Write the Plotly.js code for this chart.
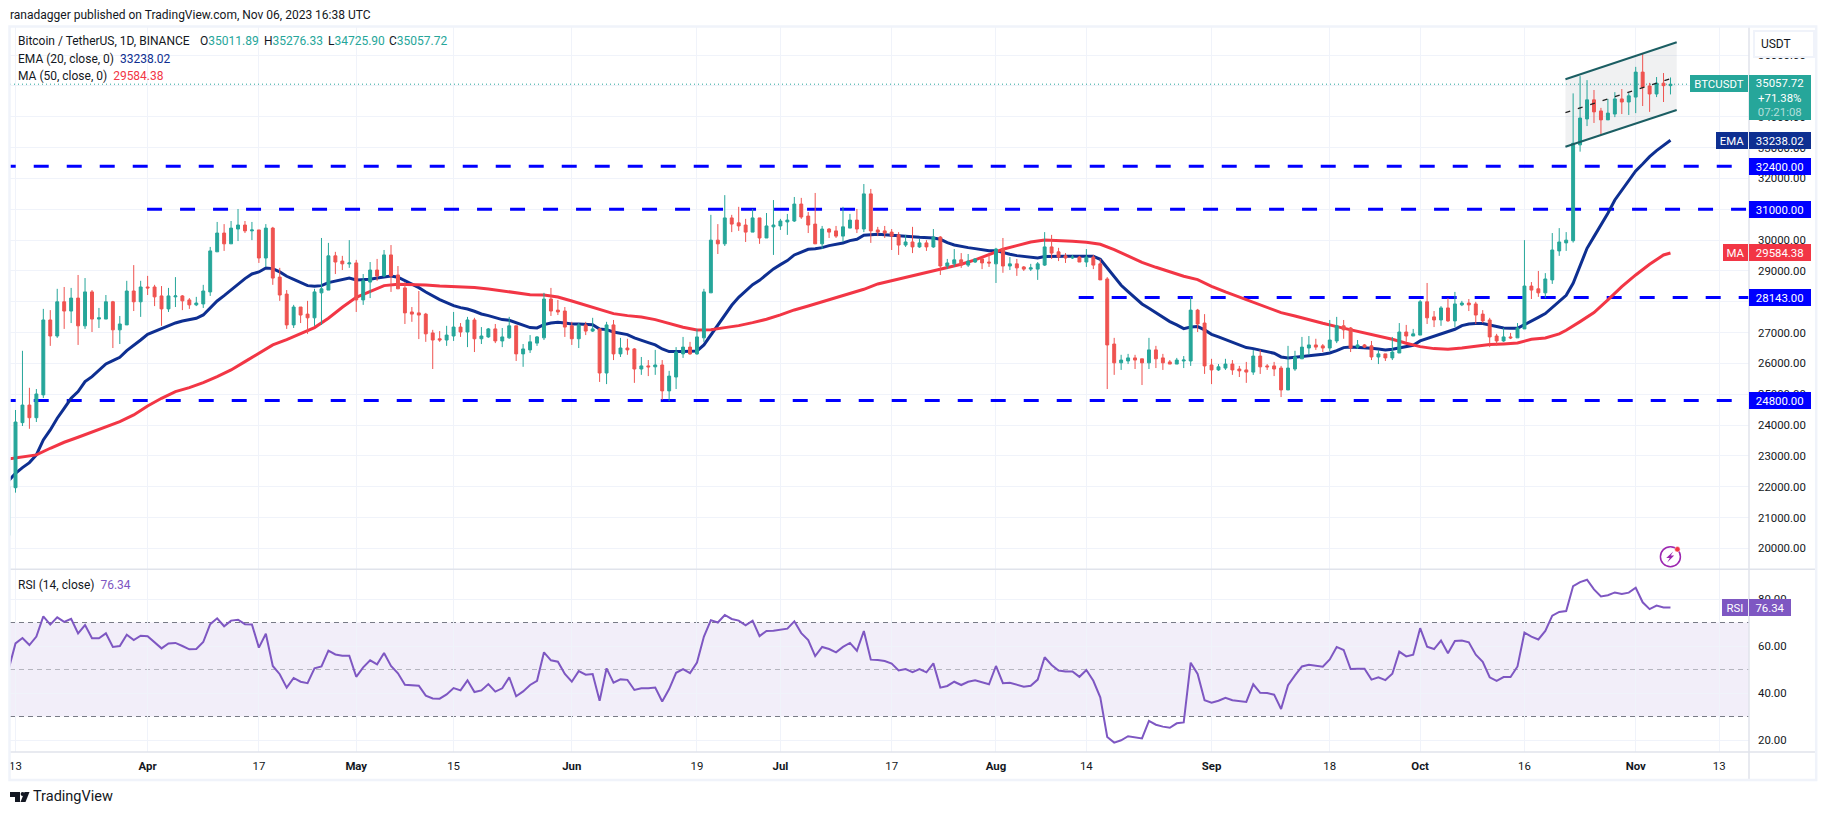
<!DOCTYPE html>
<html>
<head>
<meta charset="utf-8">
<title>BTCUSDT</title>
<script src="https://cdn.plot.ly/plotly-3.0.1.min.js"></script>
<style>html,body{margin:0;padding:0;background:#fff}#chart{width:1827px;height:815px}</style>
</head>
<body>
<div id="chart"></div>
<script>
// daily candles, first one is 12 Mar 2023
var firstDay = Date.UTC(2023, 2, 12);

var open = [20420,
21970,24080,24650,24240,24980,27410,26890,28000,27700,28120,
27220,28320,27440,27440,28000,27090,27250,28350,28000,28480,
28480,28190,27770,28160,28190,28060,27900,27930,28320,29620,
30230,29880,30360,30490,30300,30330,29420,30390,28800,28250,
27250,27830,27600,27480,28290,28380,29490,29320,29230,29260,
28060,28640,29030,28840,29520,28870,28450,27670,27640,27600,
26990,26800,26760,26890,27180,27020,27410,26800,26860,27120,
26730,26830,27220,26310,26440,26660,26830,28090,27730,27700,
27220,26800,27250,27050,27120,25690,27250,26310,26500,26470,
25820,25920,25890,25950,25110,25560,26310,26530,26310,26830,
28290,30000,29880,30720,30560,30490,30260,30720,30070,30430,
30460,30590,30620,31170,30780,30520,29880,30360,30300,30130,
30390,30650,30360,31500,30330,30300,30260,30170,29840,29940,
29780,29910,29780,30100,29160,29230,29360,29190,29290,29390,
29290,29230,29710,29160,29230,29130,29060,29060,29190,29780,
29620,29490,29420,29450,29290,29450,29230,28740,26630,26020,
26080,26180,26150,26020,26440,26180,26050,25980,26080,26080,
27730,27310,25950,25790,25850,25980,25820,25790,25720,26240,
25920,25920,25850,25140,25820,26150,26500,26600,26570,26500,
26730,27220,27150,26530,26600,26570,26210,26310,26180,26340,
27020,26890,26920,28000,27510,27410,27800,27380,27900,27960,
27930,27600,27410,26890,26730,26860,26830,27120,28510,28420,
28290,28710,29650,29910,29980,33090,33930,34550,34190,33900,
34090,34580,34480,34640,35450,35000,34740,35090,35011.89];

var high = [22010,
24490,26410,25210,25170,27770,27730,28420,28480,28450,28870,
28770,28380,27800,28220,28030,27540,28680,29190,28680,28840,
28550,28510,28450,28800,28220,28120,28160,28550,29780,30590,
30520,30620,31010,30620,30590,30330,30520,30430,29100,28380,
27900,27830,28030,28420,30070,29910,29620,29490,30000,29360,
28900,29290,29390,29680,29840,29160,28640,27830,28350,27640,
27090,27050,27220,27670,27310,27510,27480,27180,27150,27280,
27150,27510,27220,26630,26920,26890,28290,28450,28060,27830,
27350,27310,27350,27480,27150,27350,27410,26830,26800,26500,
26210,26110,26440,26110,25760,26530,26860,26700,27120,28420,
30820,30520,31460,30820,31080,30690,31010,30720,30880,31300,
30690,30850,31400,31370,30910,31530,30460,30390,30460,31080,
30850,31010,31820,31660,30430,30460,30360,30260,30170,30430,
30040,30000,30360,30130,29390,29710,29580,29550,29420,29420,
29550,29750,30070,29450,29390,29160,29230,29290,30260,30170,
29750,29580,29520,29490,29710,29520,29390,28800,26830,26280,
26310,26280,26150,26830,26570,26310,26110,26180,26240,28160,
27770,27600,26150,25980,26150,26110,25920,26050,26440,26440,
25980,26050,25920,26570,26410,26860,26890,26800,26630,27410,
27510,27410,27180,26760,26630,26730,26440,26310,26860,27310,
27250,27120,28060,28610,27700,27860,28120,28320,28030,28090,
28000,27730,27480,26960,27150,26990,27310,30000,28640,29000,
28930,30230,30390,30260,34760,35320,35190,34870,34290,34580,
34800,34900,34770,35620,36060,35100,35290,35420,35276.33];

var low = [20420,
21810,23970,23880,24100,24880,26570,26830,27120,27310,26600,
27120,27020,27150,27440,26500,26630,27250,27700,27510,28220,
27860,27220,27670,27830,27730,27770,27860,27800,28190,29620,
29650,29880,29970,30230,30000,29260,29130,28550,28030,27120,
27150,27310,26960,27220,27250,28380,28900,29030,29100,27670,
27900,28120,28680,28800,28320,28420,27280,27350,26790,26700,
25820,26700,26570,26730,26860,26530,26370,26630,26830,26660,
26530,26800,26080,25890,26340,26570,26760,27540,27570,26860,
26600,26500,26920,27020,25400,25330,26110,26210,26280,25370,
25630,25590,25630,24820,24780,25170,26180,26280,26280,26700,
28290,29550,29810,30260,30300,29940,30260,29880,30070,29520,
30330,30170,30590,30690,30230,29880,29710,30070,30070,29940,
30390,30230,30260,29910,30130,30070,29680,29520,29780,29580,
29750,29650,29750,28870,29060,29130,29100,29130,29260,29060,
29130,28610,28940,29030,28840,29000,29000,28710,29160,29390,
29320,29260,29390,29290,29130,29060,28710,25170,25630,25790,
25980,25820,25300,25820,25850,25790,25980,25980,25850,25920,
27020,25660,25330,25760,25790,25630,25560,25370,25630,25660,
25790,25590,24910,25140,25760,26150,26280,26440,26370,26400,
26660,26800,26370,26470,26500,26110,25980,26080,26110,26340,
26700,26890,26920,27280,27180,27220,27350,27180,27860,27700,
27280,27310,26530,26570,26700,26790,26830,27120,28090,28160,
28120,28580,29490,29650,29920,32870,33700,33800,33440,33900,
33990,34090,34060,34120,34350,34160,34640,34480,34725.90];

var close = [22010,
24100,24650,24240,25010,27410,26890,28000,27700,28120,27220,
28320,27440,27480,28000,27090,27280,28350,28000,28480,28450,
28160,27770,28190,28190,28030,27900,27960,28350,29650,30230,
29880,30390,30490,30300,30330,29420,30390,28770,28220,27250,
27830,27570,27480,28320,28420,29490,29290,29230,29260,28060,
28680,29030,28840,29520,28840,28420,27640,27600,27570,26960,
26760,26760,26920,27180,27020,27410,26800,26890,27120,26730,
26860,27220,26310,26470,26700,26860,28090,27700,27670,27180,
26800,27250,27050,27120,25690,27250,26310,26500,26440,25820,
25920,25890,25950,25110,25590,26370,26530,26310,26860,28320,
30000,29880,30720,30520,30460,30260,30720,30070,30460,30490,
30620,30650,31170,30750,30490,29880,30360,30260,30130,30430,
30650,30360,31500,30300,30260,30230,30130,29840,29940,29780,
29910,29780,30100,29160,29260,29360,29190,29320,29390,29260,
29260,29710,29160,29230,29100,29060,29100,29230,29780,29580,
29450,29420,29450,29290,29450,29190,28710,26600,26020,26110,
26180,26110,26020,26440,26150,26020,25980,26110,26110,27730,
27280,25920,25790,25890,25980,25790,25760,25720,26240,25890,
25890,25820,25140,25850,26210,26530,26600,26530,26500,26760,
27220,27090,26500,26600,26530,26210,26310,26180,26370,27020,
26890,26960,28000,27480,27410,27800,27380,27930,27960,27900,
27570,27380,26860,26730,26860,26830,27150,28510,28380,28290,
28740,29680,29940,30000,33140,33960,34550,34160,33900,34120,
34580,34480,34680,35450,34960,34740,35090,35010,35057.72];

var ema20 = [22190,
22438,22622,22784,23033,23519,23844,24222,24546,24870,25087,
25411,25573,25789,25984,26092,26200,26416,26578,26762,26946,
27043,27119,27216,27314,27378,27422,27465,27573,27789,28027,
28200,28384,28578,28751,28903,28968,29097,29076,28968,28827,
28730,28622,28524,28503,28524,28622,28676,28730,28773,28708,
28708,28730,28773,28816,28838,28795,28686,28589,28459,28319,
28189,28070,27973,27876,27811,27767,27692,27605,27551,27476,
27422,27400,27314,27227,27162,27151,27259,27314,27335,27314,
27281,27281,27281,27259,27119,27097,27022,26989,26935,26827,
26741,26676,26600,26470,26384,26373,26384,26395,26406,26600,
26914,27238,27551,27887,28146,28362,28557,28697,28870,29065,
29205,29335,29519,29616,29703,29724,29757,29822,29854,29908,
29984,30027,30157,30178,30189,30178,30167,30150,30135,30113,
30092,30081,30070,30027,29919,29843,29789,29757,29724,29692,
29659,29659,29594,29540,29497,29465,29443,29422,29465,29476,
29476,29476,29476,29476,29476,29476,29378,29086,28795,28535,
28330,28113,27930,27789,27649,27519,27357,27249,27130,27184,
27195,27087,26946,26860,26773,26687,26589,26514,26481,26438,
26395,26330,26211,26179,26200,26233,26254,26276,26297,26341,
26416,26514,26535,26525,26514,26492,26470,26438,26460,26503,
26546,26589,26730,26806,26870,26946,27011,27108,27227,27281,
27292,27292,27249,27195,27151,27140,27140,27259,27389,27497,
27616,27822,28005,28211,28600,29195,29735,30113,30492,30870,
31303,31605,31929,32243,32470,32708,32902,33080,33238.02];

// 50 MA read every couple of days, day number counts from 13 Mar
var maDays = [-1,1,3,5,7,9,11,13,15,17,19,21,23,25,27,29,31,33,35,37,39,41,43,45,47,49,51,53,55,57,59,61,62,
64,66,68,70,72,74,76,78,80,82,84,86,88,90,92,94,96,98,100,102,104,106,108,110,112,114,116,118,120,122,124,
126,128,130,132,134,136,138,140,142,144,146,148,150,152,154,156,158,160,162,164,166,168,170,172,174,176,178,180,182,184,
186,188,190,192,194,196,198,200,202,204,206,208,210,212,214,216,218,220,222,223,225,227,229,231,233,235,237,238];
var ma50 = [22903,22979,23033,23249,23444,23606,23768,23930,24114,24330,24622,24870,25087,25216,25379,25573,25789,26060,26341,26600,26773,26968,27162,27465,27822,28146,28330,28524,28568,28568,28546,28513,28503,
28492,28460,28416,28351,28297,28232,28222,28157,28027,27897,27746,27616,27551,27508,27422,27292,27173,27087,27097,27162,27227,27324,27432,27573,27735,27865,27995,28124,28254,28405,28578,
28686,28784,28892,29011,29097,29216,29357,29519,29703,29822,29940,30005,29994,29962,29930,29865,29692,29497,29281,29119,28968,28827,28719,28503,28319,28146,27984,27822,27649,27541,
27411,27303,27195,27097,26989,26892,26784,26654,26546,26481,26460,26503,26568,26611,26633,26665,26784,26827,26957,27076,27357,27649,28060,28492,28870,29216,29519,29584.38];

var rsi = [50,
61.1,63.4,60.4,64,72.6,69.1,72.2,70.3,71.6,65.4,
68.9,63.3,63.3,65.4,59.6,60,64.8,62.5,64.4,64.2,
61.8,59,61.1,61.3,60,58.6,58.7,61.7,69.3,71.8,
68.4,70.8,71.2,69.3,69.2,59.3,65.2,51.5,48,42.3,
46.4,44.8,44.2,50.5,51.3,58,56.4,55.9,55.9,46.9,
50.9,53.9,52.2,57,51.5,48.4,43.5,43.3,43.1,38.9,
37.7,37.6,39.4,42.1,41.1,45.4,40.4,41.1,43.8,40.6,
42,46.7,38.6,40.7,43.4,45.2,57.3,53.9,53.3,48.1,
44.8,49.3,47.8,48.1,36.7,50.5,44.4,45.8,45.6,41.3,
42,42,42.3,36.4,41.7,48.6,50.2,48.5,53,64,
71,70,73.2,71.5,70.8,68.8,70.8,64.2,66.4,66.5,
67.1,67.4,70.5,65.5,62.5,55.7,59.6,58.7,57.3,59.6,
61.3,58,66.4,54.2,54,53.6,52.5,49.6,50.2,48.9,
50.2,48.8,52.6,42.3,43,44.8,43.4,44.8,45.4,44.5,
43.7,51.5,44.2,44.4,43.5,42.7,43.1,45.7,55.2,51.9,
49.6,49.2,49.2,46.9,49.8,45.2,38.2,21.3,18.9,19.9,
21.6,21.3,20.7,28.1,26.5,25.7,25.2,27.1,27.5,52.9,
48.1,36.9,35.9,36.7,38,36.9,36.6,36.2,43.7,40.1,
40,39.3,33.2,43.3,47.5,51.3,52,51.6,51.2,54.3,
59.6,58.3,50.2,50.3,50.3,45.7,46.7,45.5,48.2,57.6,
55.6,56.3,67.6,59.7,58.7,62.3,56.9,62.1,62.3,61.6,
56.3,53.3,46.7,45.2,46.8,46.8,51.3,65.7,64,62.8,
66.4,72.9,74.5,74.9,85.5,87.2,88.2,84.1,81.1,81.6,
82.8,82.1,82.7,84.8,78.6,75.7,77.2,76.4,76.34];

var levelPrices = [32400, 31000, 28143, 24800];
var levelStarts = ['2023-03-10 21:00', '2023-03-31 22:00', '2023-08-12 21:30', '2023-03-10 21:00'];

var channelDates = ['2023-10-21 21:30', '2023-11-06 21:30'];
var channelUpper = [35217, 36417];
var channelMiddle = [34133, 35301];
var channelLower = [33030, 34221];

var tickDates = ['2023-03-13','2023-04-01','2023-04-17','2023-05-01','2023-05-15','2023-06-01','2023-06-19','2023-07-01','2023-07-17','2023-08-01','2023-08-14','2023-09-01','2023-09-18','2023-10-01','2023-10-16','2023-11-01','2023-11-13'];
var tickLabels = ['13','<b>Apr</b>','17','<b>May</b>','15','<b>Jun</b>','19','<b>Jul</b>','17','<b>Aug</b>','14','<b>Sep</b>','18','<b>Oct</b>','16','<b>Nov</b>','13'];
var priceTicks = [20000,21000,22000,23000,24000,25000,26000,27000,28000,29000,30000,31000,32000,33000,34000,35000,36000];
var rsiTicks = [20,40,60,80];

var lastClose = 35057.72, lastEma = 33238.02, lastMa = 29584.38, lastRsi = 76.34;

var green = '#26a69a', red = '#ef5350', blue = '#0000ff', navy = '#0e2f91', maRed = '#f23645', purple = '#7e57c2';
var gridColor = '#f0f3fa', borderColor = '#e0e3eb', textColor = '#131722';
var fontName = 'Roboto, sans-serif';

function dayDate(d) {
    return new Date(firstDay + (d + 1) * 86400000).toISOString().slice(0, 10);
}
var dates = open.map(function (v, i) { return dayDate(i - 1); });
var maDates = maDays.map(dayDate);

var xStart = '2023-03-12 05:00', xEnd = '2023-11-17 07:00';

// page pixels to paper fractions
function X(px) { return (px - 10) / (1749.3 - 10); }
function Y(py) { return (752 - py) / 725; }

var traces = [];
traces.push({x: [channelDates[0], channelDates[1], channelDates[1], channelDates[0], channelDates[0]],
    y: [channelUpper[0], channelUpper[1], channelLower[1], channelLower[0], channelUpper[0]],
    mode: 'lines', line: {width: 0}, fill: 'toself', fillcolor: 'rgba(120,123,134,0.11)', hoverinfo: 'skip'});
traces.push({x: [xStart, xEnd], y: [lastClose, lastClose], mode: 'lines', line: {color: green, width: 1, dash: '1px,3px'}});
levelPrices.forEach(function (p, i) {
    traces.push({x: [levelStarts[i], xEnd], y: [p, p], mode: 'lines', line: {color: blue, width: 3, dash: '15px,18px'}});
});
traces.push({x: dates, y: ema20, mode: 'lines', line: {color: navy, width: 3}});
traces.push({x: maDates, y: ma50, mode: 'lines', line: {color: maRed, width: 3}});
traces.push({type: 'candlestick', x: dates, open: open, high: high, low: low, close: close, yaxis: 'y3',
    whiskerwidth: 0,
    increasing: {line: {color: green, width: 1}, fillcolor: green},
    decreasing: {line: {color: red, width: 1}, fillcolor: red}});
[channelUpper, channelLower].forEach(function (c) {
    traces.push({x: channelDates, y: c, yaxis: 'y4', mode: 'lines', line: {color: '#1b5e63', width: 2}});
});
traces.push({x: channelDates, y: channelMiddle, yaxis: 'y4', mode: 'lines', line: {color: '#222', width: 1.3, dash: '5px,8px'}});
traces.push({x: dates, y: rsi, yaxis: 'y2', mode: 'lines', line: {color: purple, width: 2}});

function frameLine(x0, y0, x1, y1, color, w) {
    return {type: 'line', xref: 'paper', yref: 'paper', x0: X(x0), y0: Y(y0), x1: X(x1), y1: Y(y1), line: {color: color, width: w}};
}
var shapes = [
    {type: 'rect', xref: 'paper', yref: 'y2', x0: 0, x1: 1, y0: 30, y1: 70, fillcolor: 'rgba(126,87,194,0.1)', line: {width: 0}, layer: 'below'},
    {type: 'line', xref: 'paper', yref: 'y2', x0: 0, x1: 1, y0: 70, y1: 70, line: {color: '#787b86', width: 1, dash: '5px,4px'}, layer: 'below'},
    {type: 'line', xref: 'paper', yref: 'y2', x0: 0, x1: 1, y0: 50, y1: 50, line: {color: 'rgba(120,123,134,0.5)', width: 1, dash: '5px,4px'}, layer: 'below'},
    {type: 'line', xref: 'paper', yref: 'y2', x0: 0, x1: 1, y0: 30, y1: 30, line: {color: '#787b86', width: 1, dash: '5px,4px'}, layer: 'below'},
    frameLine(1749.3, 27, 1749.3, 780, borderColor, 1.5),
    frameLine(10, 569.3, 1816, 569.3, borderColor, 1.5),
    frameLine(10, 752, 1816, 752, borderColor, 1.5),
    {type: 'rect', xref: 'paper', yref: 'paper', x0: X(9.5), x1: X(1816.5), y0: Y(780), y1: Y(26.5), line: {color: gridColor, width: 2.5}},
    // lightning icon
    {type: 'circle', xref: 'paper', yref: 'paper', x0: X(1660.7), x1: X(1680.7), y0: Y(566.7), y1: Y(546.7), line: {color: '#9c27b0', width: 1.5}},
    {type: 'path', xref: 'paper', yref: 'paper', fillcolor: '#9c27b0', line: {width: 0},
        path: 'M' + X(1673.5) + ',' + Y(551.5) + 'L' + X(1666.5) + ',' + Y(558) + 'L' + X(1670) + ',' + Y(558) + 'L' + X(1667.5) + ',' + Y(562.5) + 'L' + X(1674.5) + ',' + Y(555.5) + 'L' + X(1671) + ',' + Y(555.5) + 'Z'},
    {type: 'circle', xref: 'paper', yref: 'paper', x0: X(1675), x1: X(1680.4), y0: Y(552), y1: Y(546.6), fillcolor: '#f23645', line: {color: '#fff', width: 0.5}},
    // TradingView mark
    {type: 'path', xref: 'paper', yref: 'paper', fillcolor: '#131722', line: {width: 0},
        path: 'M' + X(10) + ',' + Y(792) + 'L' + X(20) + ',' + Y(792) + 'L' + X(20) + ',' + Y(802) + 'L' + X(15) + ',' + Y(802) + 'L' + X(15) + ',' + Y(797) + 'L' + X(10) + ',' + Y(797) + 'Z'},
    {type: 'path', xref: 'paper', yref: 'paper', fillcolor: '#131722', line: {width: 0},
        path: 'M' + X(24.5) + ',' + Y(792) + 'L' + X(29.5) + ',' + Y(792) + 'L' + X(25.5) + ',' + Y(802) + 'L' + X(20.5) + ',' + Y(802) + 'Z'},
    {type: 'circle', xref: 'paper', yref: 'paper', x0: X(20.6), x1: X(24.6), y0: Y(796), y1: Y(792), fillcolor: '#131722', line: {width: 0}}
];

function note(text, px, py, size, color, anchor) {
    return {text: text, xref: 'paper', yref: 'paper', x: X(px), y: Y(py), xanchor: anchor || 'left', yanchor: 'middle',
        showarrow: false, borderpad: 0, borderwidth: 0, font: {family: fontName, size: size, color: color || textColor}};
}
function tag(text, px, w, yPos, yRef, h, bg) {
    return {text: text, xref: 'paper', x: X(px), yref: yRef, y: yPos, xanchor: 'left', yanchor: 'middle', align: 'center',
        width: w, height: h, bgcolor: bg, showarrow: false, borderpad: 0, borderwidth: 0, font: {family: fontName, size: 11.4, color: '#fff'}};
}
function teal(s) { return '<span style="color:' + green + '">' + s + '</span>'; }

var annotations = [
    note('ranadagger published on TradingView.com, Nov 06, 2023 16:38 UTC', 10, 15, 12),
    note('Bitcoin / TetherUS, 1D, BINANCE', 18, 41, 12),
    note('O' + teal('35011.89'), 200, 41, 12),
    note('H' + teal('35276.33'), 264, 41, 12),
    note('L' + teal('34725.90'), 328, 41, 12),
    note('C' + teal('35057.72'), 389, 41, 12),
    note('EMA (20, close, 0)  <span style="color:' + navy + '">' + lastEma.toFixed(2) + '</span>', 18, 59, 12),
    note('MA (50, close, 0)  <span style="color:' + maRed + '">' + lastMa.toFixed(2) + '</span>', 18, 76, 12),
    note('RSI (14, close)  <span style="color:' + purple + '">' + lastRsi.toFixed(2) + '</span>', 18, 585, 12),
    note('TradingView', 33, 797, 14.5),
    {text: '&nbsp;&nbsp;USDT', xref: 'paper', yref: 'paper', x: X(1753), y: Y(44), xanchor: 'left', yanchor: 'middle', width: 58, height: 24, align: 'left',
        bgcolor: '#fff', bordercolor: gridColor, borderwidth: 2, borderpad: 0, showarrow: false, font: {family: fontName, size: 12, color: textColor}},
    tag('BTCUSDT', 1690, 58, Y(83.3), 'paper', 17, green),
    tag('35057.72<br>+71.38%<br><span style="color:rgba(255,255,255,0.65)">07:21:08</span>', 1749.5, 61.5, Y(97.5), 'paper', 45, green),
    tag('EMA', 1716, 32, lastEma, 'y', 17, navy),
    tag(lastEma.toFixed(2), 1749.5, 61.5, lastEma, 'y', 17, navy),
    tag('MA', 1723, 25, lastMa, 'y', 17, maRed),
    tag(lastMa.toFixed(2), 1749.5, 61.5, lastMa, 'y', 17, maRed),
    tag('RSI', 1722, 26, lastRsi, 'y2', 17, purple),
    tag(lastRsi.toFixed(2), 1749.5, 42, lastRsi, 'y2', 17, purple)
];
levelPrices.forEach(function (p) {
    annotations.push(tag(p.toFixed(2), 1749.5, 61.5, p, 'y', 17, blue));
});

var priceRange = [19323, 36913];
var split = (752 - 569.3) / 725;
var axisFont = {family: fontName, size: 11.4, color: textColor};

var layout = {
    width: 1827, height: 815,
    margin: {l: 10, r: 77.7, t: 27, b: 63, pad: 0},
    paper_bgcolor: '#fff', plot_bgcolor: '#fff',
    showlegend: false,
    boxgap: 0.4,
    font: {family: fontName, size: 12, color: textColor},
    xaxis: {type: 'date', anchor: 'y2', range: [xStart, xEnd], rangeslider: {visible: false},
        tickmode: 'array', tickvals: tickDates, ticktext: tickLabels,
        showgrid: true, gridcolor: gridColor, gridwidth: 1, zeroline: false, showline: false, ticks: '', ticklabelstandoff: 6,
        tickfont: axisFont},
    yaxis: {domain: [split, 1], range: priceRange, side: 'right', anchor: 'x',
        tickmode: 'array', tickvals: priceTicks, tickformat: '.2f',
        showgrid: true, gridcolor: gridColor, zeroline: false, showline: false, ticks: '', ticklabelstandoff: 8,
        tickfont: axisFont},
    yaxis2: {domain: [0, split], range: [14.9, 92.64], side: 'right', anchor: 'x',
        tickmode: 'array', tickvals: rsiTicks, tickformat: '.2f',
        showgrid: true, gridcolor: gridColor, zeroline: false, showline: false, ticks: '', ticklabelstandoff: 8,
        tickfont: axisFont},
    yaxis3: {overlaying: 'y', range: priceRange, side: 'right', anchor: 'x', visible: false},
    yaxis4: {overlaying: 'y', range: priceRange, side: 'right', anchor: 'x', visible: false},
    shapes: shapes,
    annotations: annotations
};

Plotly.newPlot('chart', traces, layout, {displayModeBar: false, staticPlot: true});
</script>
</body>
</html>
